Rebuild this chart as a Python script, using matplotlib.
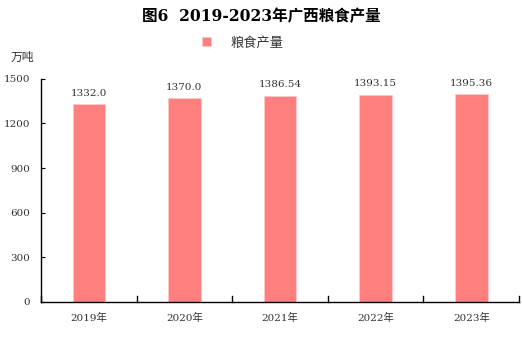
import matplotlib
matplotlib.use("Agg")
import matplotlib.pyplot as plt

plt.rcParams['font.family'] = ['DejaVu Serif', 'Noto Sans CJK SC']

years = ["2019年", "2020年", "2021年", "2022年", "2023年"]
output = [1332.0, 1370.0, 1386.54, 1393.15, 1395.36]
value_labels = ["1332.0", "1370.0", "1386.54", "1393.15", "1395.36"]
yticks = [0, 300, 600, 900, 1200, 1500]

bar_color = "#ff7f7f"

fig = plt.figure(figsize=(5.22, 3.37), dpi=100)
ax = fig.add_axes([0.0785, 0.104, 0.916, 0.662])

x = list(range(len(years)))
bars = ax.bar(x, output, width=0.34, color=bar_color, edgecolor="#ffc8c8",
              linewidth=0.6, label="粮食产量")

for xi, v, lab in zip(x, output, value_labels):
    ax.annotate(lab, (xi, v), xytext=(0, 4.5), textcoords="offset points",
                ha="center", va="bottom", fontsize=7.5, color="#333333")

ax.set_xlim(-0.5, len(years) - 0.5)
ax.set_ylim(0, 1500)
ax.set_yticks(yticks)
ax.set_yticklabels([str(t) for t in yticks], fontsize=7.5, color="#333333")
ax.set_xticks(x)
ax.set_xticklabels(years, fontsize=7.5, color="#333333")
ax.tick_params(axis="x", length=0, pad=8)
ax.tick_params(axis="y", direction="in", length=3, pad=8)

# category boundary ticks along the x axis
for b in [i - 0.5 for i in range(len(years) + 1)]:
    ax.plot([b, b], [0, 38], color="black", linewidth=1.0, clip_on=False)

for side in ["top", "right"]:
    ax.spines[side].set_visible(False)
ax.spines["left"].set_linewidth(1.0)
ax.spines["bottom"].set_linewidth(1.0)

fig.text(0.5, 0.95, "图6  2019-2023年广西粮食产量", ha="center", va="center",
         fontsize=11.2, fontweight="bold",
         family=['DejaVu Serif', 'Noto Sans CJK SC'])
fig.text(0.02, 0.83, "万吨", ha="left", va="center", fontsize=8.5,
         color="#333333", family=['Noto Sans CJK SC'])

leg = fig.legend(handles=[bars], labels=["粮食产量"], loc="center",
                 bbox_to_anchor=(0.465, 0.873), frameon=False,
                 handlelength=0.7, handleheight=0.7, handletextpad=1.5,
                 prop={'family': ['Noto Sans CJK SC'], 'size': 9.5})
for t in leg.get_texts():
    t.set_color("#333333")

fig.savefig("out.png", dpi=100)
